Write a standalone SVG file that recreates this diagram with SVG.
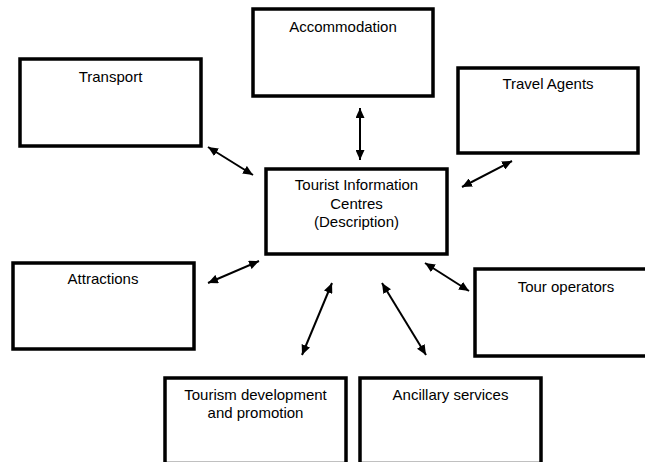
<svg xmlns="http://www.w3.org/2000/svg" width="645" height="462" viewBox="0 0 645 462">
<style>
.box{fill:#fff;stroke:#000;stroke-width:3.5}
.lbl{font-family:"Liberation Sans",Arial,sans-serif;font-size:15px;fill:#000;text-anchor:middle}
.conn{stroke:#000;stroke-width:2;fill:none;marker-start:url(#ah);marker-end:url(#ah)}
</style>
<defs>
<marker id="ah" markerUnits="userSpaceOnUse" markerWidth="11" markerHeight="9" refX="10" refY="4.5" orient="auto-start-reverse" viewBox="0 0 11 9">
<path d="M0,0 L10,4.5 L0,9 z" fill="#000"/>
</marker>
</defs>
<rect width="645" height="462" fill="#fff"/>
<g id="connectors">
<line class="conn" x1="208" y1="147" x2="253" y2="175"/>
<line class="conn" x1="360" y1="108" x2="360" y2="160"/>
<line class="conn" x1="512" y1="161" x2="462" y2="187"/>
<line class="conn" x1="259" y1="261" x2="208" y2="283"/>
<line class="conn" x1="425" y1="263" x2="469" y2="291"/>
<line class="conn" x1="332" y1="283" x2="302" y2="355"/>
<line class="conn" x1="382" y1="283" x2="426" y2="355"/>
</g>
<g id="transport">
<rect class="box" x="20" y="59" width="181" height="87"/>
<text class="lbl" x="110.5" y="82">Transport</text>
</g>
<g id="accommodation">
<rect class="box" x="253" y="9" width="180" height="87"/>
<text class="lbl" x="343" y="32">Accommodation</text>
</g>
<g id="travel-agents">
<rect class="box" x="458" y="68" width="180" height="85"/>
<text class="lbl" x="548" y="89">Travel Agents</text>
</g>
<g id="tic">
<rect class="box" x="266" y="169" width="181" height="85"/>
<text class="lbl" x="356.5" y="190">Tourist Information</text>
<text class="lbl" x="356.5" y="208.5">Centres</text>
<text class="lbl" x="356.5" y="227">(Description)</text>
</g>
<g id="attractions">
<rect class="box" x="13" y="263" width="181" height="86"/>
<text class="lbl" x="103" y="284">Attractions</text>
</g>
<g id="tour-operators">
<rect class="box" x="475" y="269" width="185" height="87"/>
<text class="lbl" x="566" y="292">Tour operators</text>
</g>
<g id="tourism-development">
<rect class="box" x="165" y="378" width="181" height="85.5"/>
<text class="lbl" x="255.5" y="400">Tourism development</text>
<text class="lbl" x="255.5" y="418">and promotion</text>
</g>
<g id="ancillary">
<rect class="box" x="360" y="378" width="181" height="85.5"/>
<text class="lbl" x="450.5" y="400">Ancillary services</text>
</g>
</svg>
